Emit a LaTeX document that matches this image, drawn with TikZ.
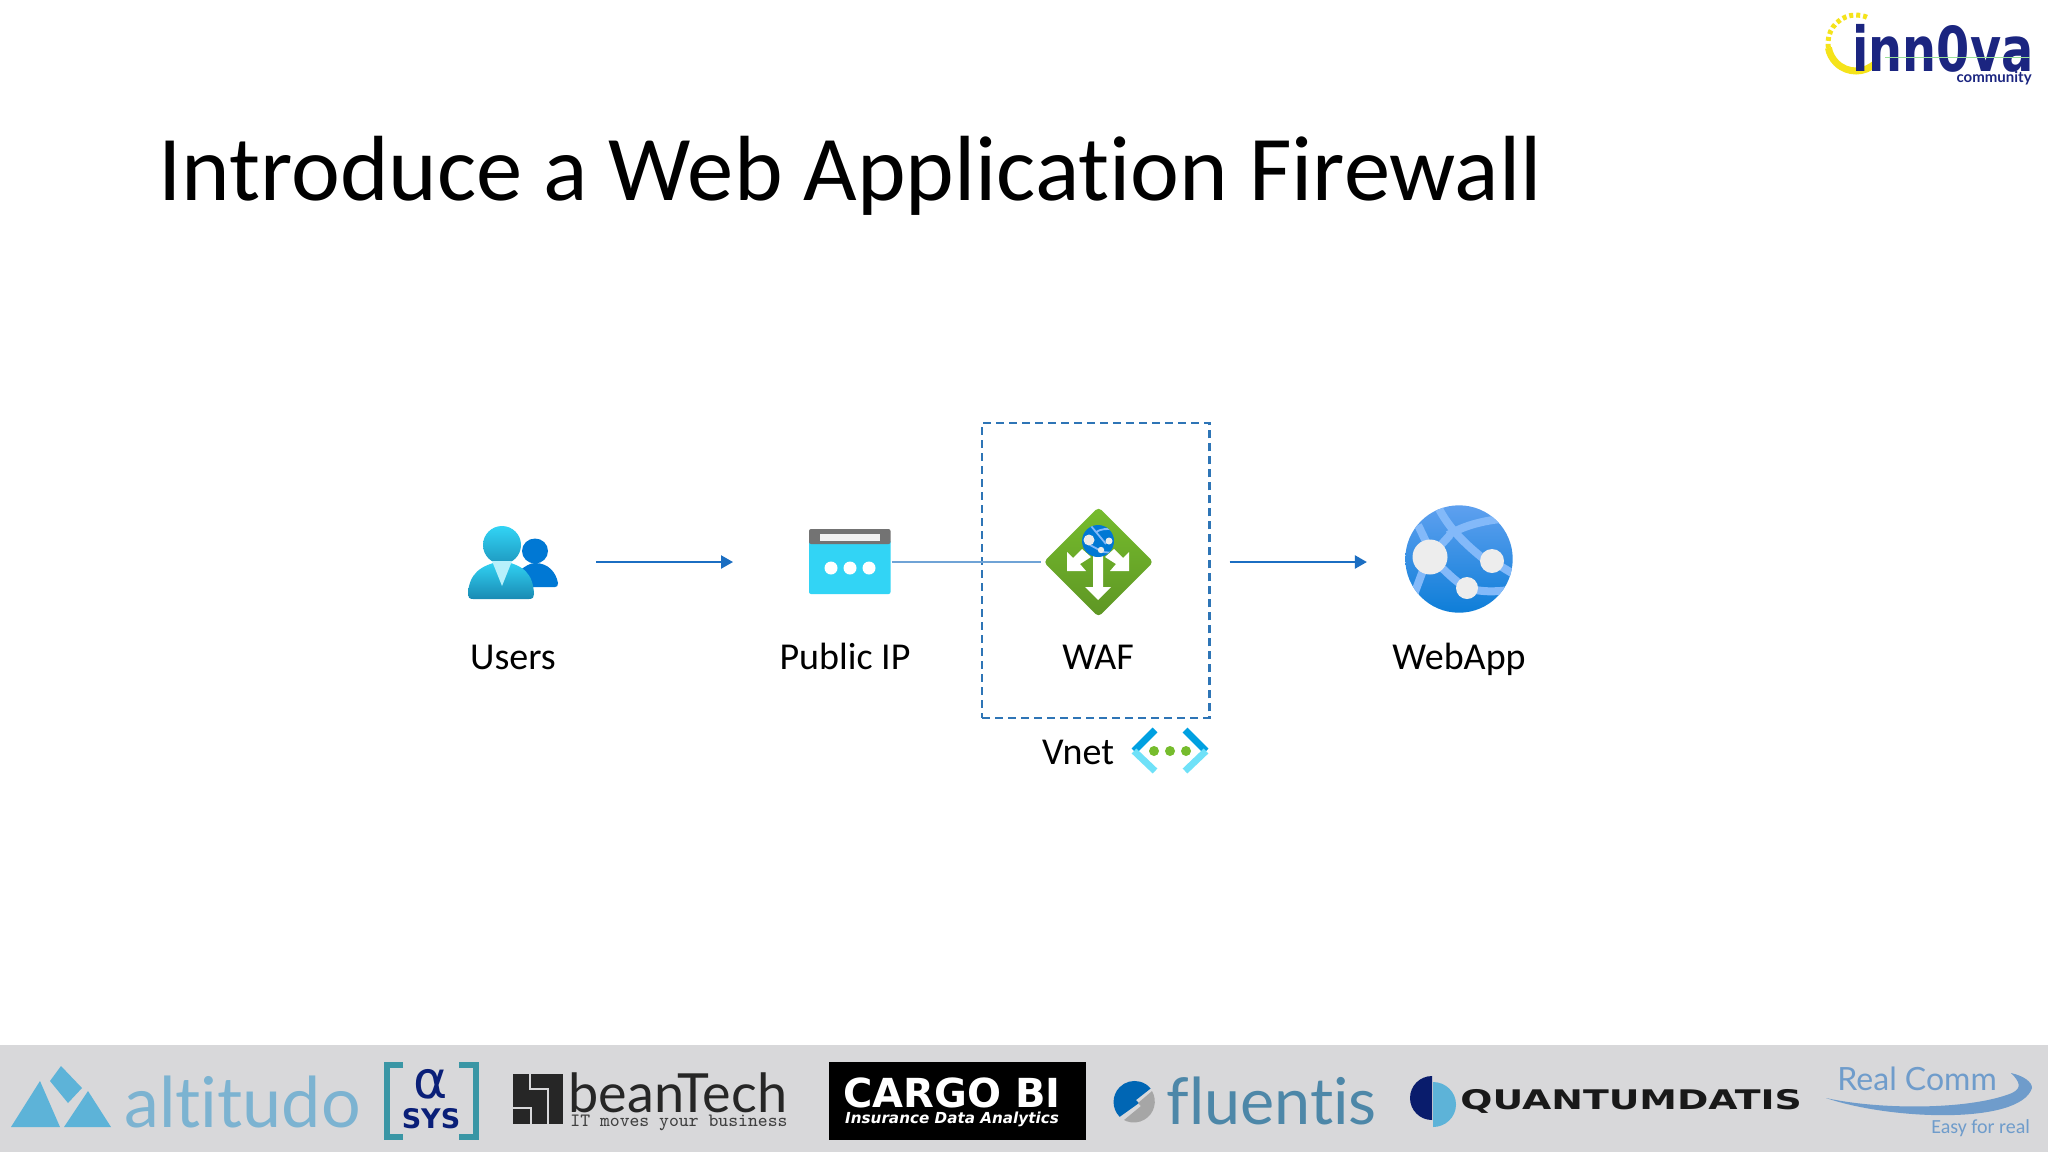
\documentclass[tikz,border=0pt]{standalone}
\usepackage{fontspec}
\setmainfont[Ligatures=CommonOff]{Carlito}
\newfontfamily\logosans[Ligatures=CommonOff]{Lato}
\newfontfamily\logowide{DejaVu Sans}
\newfontfamily\logoquant[FakeStretch=1.4]{DejaVu Sans}
\newfontfamily\logoinn[FakeStretch=0.77]{DejaVu Sans}
\usetikzlibrary{positioning,arrows.meta,shapes.geometric}
\definecolor{flowblue}{HTML}{1B6EC2}
\definecolor{boxblue}{HTML}{2E75B6}
\definecolor{wirblue}{HTML}{6FA3D6}
\definecolor{skyhi}{HTML}{32D4F5}
\definecolor{skylo}{HTML}{198AB3}
\definecolor{azure}{HTML}{0078D4}
\definecolor{globehi}{HTML}{5EA0EF}
\definecolor{globeband}{HTML}{83B9F9}
\definecolor{wafhi}{HTML}{76BC2D}
\definecolor{waflo}{HTML}{5E9624}
\definecolor{footgray}{HTML}{D8D8DA}
\definecolor{altblue}{HTML}{5DB3D8}
\definecolor{alttext}{HTML}{7CB3D1}
\definecolor{sysnavy}{HTML}{0A1F78}
\definecolor{systeal}{HTML}{3A96A5}
\definecolor{fluenttext}{HTML}{4D87A8}
\definecolor{realblue}{HTML}{6F9CCB}
\definecolor{innavy}{HTML}{1B2580}
\definecolor{inyellow}{HTML}{F5E31A}
\tikzset{
  iconlabel/.style={font=\fontsize{19}{21}\selectfont, anchor=base},
  iconbox/.style={inner sep=0, outer sep=0, minimum width=#1},
  flow/.style={draw=flowblue, line width=1.1pt, -{Triangle[length=6pt,width=6.5pt]}},
  logotext/.style={inner sep=0, anchor=base west},
}
\begin{document}
\begin{tikzpicture}[x=0.5pt, y=-0.5pt, every node/.style={inner sep=0}]
  \useasboundingbox (0,0) rectangle (2048,1152);
  \fill[white] (0,0) rectangle (2048,1152);

  % Title
  \node[anchor=base west, font=\fontsize{46.3}{52}\selectfont, text=black] (title) at (158,200) {Introduce a Web Application Firewall};

  % Users icon
  \node[iconbox=45pt, minimum height=40pt] (users) at (513,562) {};
  \fill[azure] (520,587) -- (520,570) .. controls (526,566) and (530,563) .. (535,563) .. controls (548,563) and (556,572) .. (558,583) .. controls (558,586) and (557,587) .. (555,587) -- cycle;
  \fill[azure] (535,551) ellipse [x radius=13, y radius=12.5];
  \shade[top color=skyhi, bottom color=skylo] (473,599) .. controls (469,599) and (468,597) .. (468,594) .. controls (469,574) and (480,565) .. (502,561) .. controls (524,565) and (533,574) .. (534,594) .. controls (534,597) and (533,599) .. (529,599) -- cycle;
  \shade[top color=skyhi, bottom color=skylo!80!skyhi] (502,545) ellipse [x radius=19, y radius=19];
  \fill[skyhi!35!white] (492,561) -- (512,561) -- (502,586) -- cycle;
  \node[iconlabel] (userslabel) at (513,669) {Users};

  % Public IP icon
  \node[iconbox=40.75pt, minimum height=32.5pt] (publicip) at (849.75,562) {};
  \fill[rounded corners=1pt, skyhi] (809,540) rectangle (890.5,594);
  \fill[rounded corners=1pt, black!55] (809,529) rectangle (890.5,544);
  \fill[white!95!black] (820,534) rectangle (880,541);
  \foreach \x in {831,850,869} {
    \fill[white] (\x,568) circle [radius=6.5];
  }
  \node[iconlabel] (publiciplabel) at (845,669) {Public IP};

  % WAF icon
  \node[diamond, aspect=1, minimum width=55pt, minimum height=55pt, rounded corners=2pt, top color=wafhi, bottom color=waflo] (waf) at (1098.5,562) {};
  \fill[white] (1067,552) -- (1073,558) -- (1082,549) -- (1091,557) -- (1080,564) -- (1086,571) -- (1067,571) -- cycle;
  \fill[white] (1129,552) -- (1123,558) -- (1114,549) -- (1105,557) -- (1116,564) -- (1110,571) -- (1129,571) -- cycle;
  \fill[white] (1093,555) -- (1103,555) -- (1103,587) -- (1111,587) -- (1098,600) -- (1085,587) -- (1093,587) -- cycle;
  \fill[azure] (1098,541) circle [radius=16];
  \begin{scope}
    \clip (1098,541) circle [radius=16];
    \draw[globeband, line width=0.9pt] (1091,526) -- (1106,544) (1096,532) .. controls (1101,529) and (1107,528) .. (1114,530) (1090,545) -- (1103,552) -- (1114,553);
  \end{scope}
  \fill[white!92!black] (1089,540) circle [radius=5.5];
  \fill[white!92!black] (1109,541) circle [radius=3.5];
  \fill[white!92!black] (1101,550) circle [radius=3.2];
  \node[iconlabel] (waflabel) at (1098,669) {WAF};

  % WebApp icon
  \node[circle, minimum size=53.7pt, top color=globehi, bottom color=azure!85!globehi] (webapp) at (1459,559) {};
  \begin{scope}
    \clip (1459,559) circle [radius=53.7];
    \draw[globeband, line width=4pt] (1437,505) .. controls (1447,525) and (1460,540) .. (1485,560);
    \draw[globeband, line width=4pt] (1448,535) .. controls (1465,525) and (1485,520) .. (1510,518);
    \draw[globeband, line width=4pt] (1418,525) -- (1430,550);
    \draw[globeband, line width=4pt] (1430,557) -- (1450,535);
    \draw[globeband, line width=4pt] (1430,557) .. controls (1445,570) and (1455,582) .. (1467,588) .. controls (1480,592) and (1495,592) .. (1510,590);
    \draw[globeband, line width=4pt] (1425,565) -- (1412,600);
    \draw[globeband, line width=4pt] (1492,561) -- (1520,578);
  \end{scope}
  \fill[white!93!black] (1430,557) circle [radius=17.5];
  \fill[white!93!black] (1492,561) circle [radius=12];
  \fill[white!93!black] (1467,588) circle [radius=11];
  \node[iconlabel] (webapplabel) at (1459,669) {WebApp};

  % Vnet box and icon
  \node[draw=boxblue, dash pattern=on 4pt off 2.5pt, line width=1.2pt, minimum width=113.7pt, minimum height=147.5pt] (vnetbox) at (1095.7,570.5) {};
  \node[iconlabel] (vnetlabel) at (1078,764) {Vnet};
  \draw[azure!70!cyan, line width=3.4pt] (1155,730) -- (1134,751);
  \draw[skyhi!70!white, line width=3.4pt] (1134,751) -- (1155,771);
  \draw[azure!70!cyan, line width=3.4pt] (1185,730) -- (1206,751);
  \draw[skyhi!70!white, line width=3.4pt] (1206,751) -- (1185,771);
  \foreach \x in {1154,1170,1186} {
    \fill[wafhi] (\x,751) circle [radius=5];
  }

  % Connectors
  \draw[flow, shorten <=19pt, shorten >=38pt] (users.east) -- (publicip.west);
  \draw[draw=wirblue, line width=0.8pt, shorten <=0.5pt, shorten >=1pt] (publicip.east) -- (waf.west);
  \draw[flow, shorten <=9.5pt, shorten >=19pt] (waf.east -| vnetbox.east) -- (waf.east -| webapp.west);

  % Footer band
  \fill[footgray] (0,1045) rectangle (2048,1152);

  % altitudo logo
  \fill[altblue] (40,1081) -- (11,1127) -- (60,1127) -- cycle;
  \fill[altblue] (61,1066) -- (50,1081) -- (68,1103) -- (82,1088) -- cycle;
  \fill[altblue] (88,1091) -- (64,1127) -- (111,1127) -- cycle;
  \node[logotext, font=\logosans\fontsize{35}{36}\selectfont, text=alttext] (altitudo) at (124,1127) {altitudo};

  % alpha sys logo
  \draw[systeal, line width=3pt] (403,1065) -- (386.5,1065) -- (386.5,1137) -- (403,1137);
  \draw[systeal, line width=3pt] (459,1065) -- (475.5,1065) -- (475.5,1137) -- (459,1137);
  \node[font=\logowide\fontsize{26}{26}\selectfont, text=sysnavy, anchor=base] (alpha) at (431,1098) {α};
  \node[font=\logowide\bfseries\fontsize{13.5}{14}\selectfont, text=sysnavy, anchor=base] (sys) at (431,1128) {SYS};

  % beanTech logo
  \fill[black!85] (513,1074) rectangle (563,1124);
  \draw[footgray, line width=1pt] (513,1108) -- (531,1108) -- (531,1124);
  \draw[footgray, line width=1pt] (530,1074) -- (530,1089) -- (548,1089) -- (548,1124);
  \node[logotext, font=\logosans\fontsize{27}{27}\selectfont, text=black!85] (beantech) at (568,1112) {beanTech};
  \node[logotext, font=\ttfamily\fontsize{9.4}{9}\selectfont, text=black!75] (beanslogan) at (570,1126) {IT moves your business};

  % Cargo BI logo
  \node[fill=black, minimum width=128.5pt, minimum height=39pt, anchor=north west] (cargobox) at (829,1062) {};
  \node[font=\logowide\bfseries\fontsize{20}{20}\selectfont, text=white, anchor=base] (cargo) at (952,1107) {CARGO BI};
  \node[font=\logowide\bfseries\itshape\fontsize{7.6}{8}\selectfont, text=white, anchor=base] (cargotag) at (952,1123) {Insurance Data Analytics};

  % fluentis logo
  \fill[azure!85!black] (1119.7,1116.8) arc [start angle=135, end angle=320, radius=21] -- (1136,1100) -- (1139,1103) -- cycle;
  \fill[black!35] (1124,1120) -- (1141,1106) -- (1138,1103) -- (1152,1091) arc [start angle=-30, end angle=110, radius=21] -- cycle;
  \node[logotext, font=\logosans\fontsize{32.3}{33}\selectfont, text=fluenttext] (fluentis) at (1166,1124) {fluentis};

  % Quantumdatis logo
  \fill[sysnavy!90!black] (1432,1076) arc [start angle=-90, end angle=-270, x radius=22, y radius=22] -- cycle;
  \fill[altblue] (1433,1082) arc [start angle=-90, end angle=90, x radius=23, y radius=22.5] -- cycle;
  \node[font=\logoquant\bfseries\fontsize{13.5}{14}\selectfont, text=black!90, anchor=base west] (quantum) at (1460,1109) {QUANTUMDATIS};

  % Real Comm logo
  \node[logotext, font=\logosans\fontsize{16}{16}\selectfont, text=realblue] (realcomm) at (1837,1090) {Real Comm};
  \fill[realblue] (1826,1098) .. controls (1890,1120) and (2020,1125) .. (2032,1088) .. controls (2032,1082) and (2024,1076) .. (2011,1073) .. controls (2020,1082) and (2022,1088) .. (2012,1093) .. controls (1970,1110) and (1880,1110) .. (1826,1098) -- cycle;
  \node[logotext, font=\fontsize{10}{11}\selectfont, text=realblue] (easyreal) at (1931,1133) {Easy for real};

  % inn0va logo
  \draw[inyellow, line width=3.5pt] (1856,43) ++(45:28) arc [start angle=45, end angle=170, radius=28];
  \draw[inyellow, line width=2.5pt, dash pattern=on 2pt off 1.5pt] (1856,43) ++(170:28) arc [start angle=170, end angle=298, radius=28];
  \node[logotext, font=\logoinn\bfseries\fontsize{31}{31}\selectfont, text=innavy] (innova) at (1852,71) {inn0va};
  \draw[black!30!green!40!white, line width=0.8pt] (1885,57.5) -- (2030,57.5);
  \node[font=\logosans\bfseries\fontsize{7.5}{8}\selectfont, text=innavy, anchor=base east] (community) at (2032,82) {community};
\end{tikzpicture}
\end{document}
